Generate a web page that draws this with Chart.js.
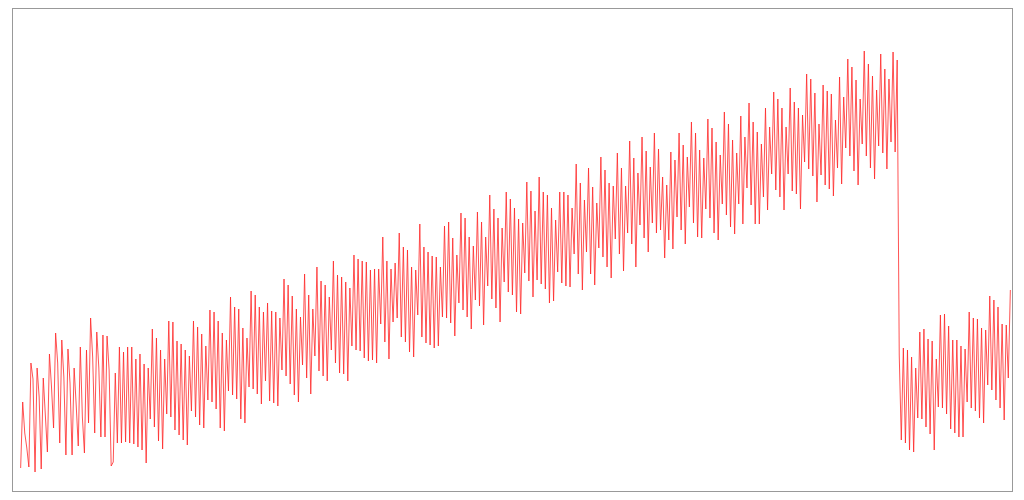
<!DOCTYPE html>
<html>
<head>
<meta charset="utf-8">
<script src="https://cdn.jsdelivr.net/npm/chart.js@4"></script>
<style>
  html, body { margin: 0; padding: 0; background: #ffffff; }
  #wrap { width: 1024px; height: 500px; }
</style>
</head>
<body>
<div id="wrap"><canvas id="c" width="1024" height="500"></canvas></div>
<script>
// Series values, in order, split into consecutive stretches.
const segment1 = [23, 89, 58, 43, 24, 128, 112, 19, 123, 94, 22, 113, 76, 39, 137, 104, 63, 158, 128, 48, 151, 114, 36, 142, 108, 36, 123, 86, 45, 144, 74, 38, 141, 68, 173, 134, 58, 159, 123, 54, 156, 54, 155, 121];
const segment2 = [25, 29, 118, 48, 144, 48, 139, 49, 144, 48, 144, 47, 132, 44, 137, 41, 127, 28, 123, 72, 162, 64, 153, 50, 141, 42, 132, 77, 170, 74, 169, 61, 150, 56, 147, 51, 141, 46, 135, 80, 170];
const segment3 = [74, 164, 66, 157, 63, 145, 91, 181, 89, 179, 82, 170, 63, 158, 60, 151, 100, 194, 96, 184, 92, 182, 72, 163, 68, 153, 104, 200, 102, 196, 97, 184, 87, 179, 110, 188, 90, 180, 88, 179, 85, 173, 121, 212, 115, 206, 107, 195, 96, 182, 89, 174, 126, 217, 113, 196];
const segment4 = [97, 182, 135, 224, 120, 210, 115, 206, 110, 194, 141, 230, 128, 216, 118, 214, 117, 209, 110, 203, 145, 236, 141, 232, 140, 230, 133, 229, 130, 221, 131, 222, 128, 222, 167, 254, 149, 230, 132, 222, 169, 228, 173, 258, 154, 244, 149, 241, 139, 224, 134, 221, 176, 267, 154, 244, 148];
const segment5 = [239, 146, 235, 143, 234, 145, 224, 174, 265, 173, 269, 168, 253, 155, 236, 188, 278, 181, 273, 174, 254, 162, 245, 191, 279, 185, 269, 166, 254, 205, 296, 192, 282, 183, 273, 169, 263, 209, 299, 199, 292, 196, 283, 179, 272, 177, 268, 218, 309, 210, 300, 194, 280, 211, 314, 207, 299];
const segment6 = [202, 296, 188, 283, 190, 271, 219, 299, 208, 299, 205, 296, 204, 283, 237, 327, 217, 308, 201, 291, 239, 323, 217, 304, 206, 288, 243, 334, 234, 321, 224, 308, 213, 305, 252, 338, 237, 323, 220, 305, 258, 350, 247, 333, 224, 318, 266, 354, 253, 340, 239, 324, 268, 358, 258, 342];
const segment7 = [261, 314, 233, 306, 251, 339, 242, 331, 274, 358, 261, 346, 247, 334, 284, 369, 268, 358, 254, 341, 253, 333, 282, 372, 273, 363, 258, 349, 251, 336, 287, 379, 276, 367, 264, 351, 257, 338, 287, 375, 267, 354, 303, 388, 286, 369, 267, 359, 267, 347, 294, 383, 281, 364, 317, 399, 301, 392, 294, 383, 281];
const segment8 = [364, 317, 403, 300, 389, 297, 383, 282, 376, 329, 417, 322, 412, 315, 398, 289, 367, 316, 406, 306, 400, 302, 397, 295, 371, 323, 414, 307, 394, 343, 432, 335, 424, 320, 411, 306, 392, 347, 440, 335, 427, 323, 415, 312, 401, 345, 437, 338, 422, 322, 412, 349, 439, 339, 431];
const dropSegment = [136, 51];
const segment9 = [143, 48, 141, 41, 134, 39, 123, 73, 159, 72, 162, 64, 152, 57, 150, 41, 132, 84, 176, 83, 177, 77, 165, 62, 151, 58, 151, 54, 145, 54, 142, 89, 179, 83, 173, 80, 172, 73, 163, 68, 161, 106, 195, 101, 191, 91, 184, 83, 167, 71, 166, 113, 201];

const seriesValues = [].concat(segment1, segment2, segment3, segment4, segment5,
                               segment6, segment7, segment8, dropSegment, segment9);
// Observation number of each value (x position in sequence).
const periods = seriesValues.map((_, i) => i);

const points = periods.map((p, i) => ({ x: p, y: seriesValues[i] }));

const frameBorder = {
  id: 'frameBorder',
  afterDraw(chart) {
    const a = chart.chartArea;
    const ctx = chart.ctx;
    ctx.save();
    ctx.strokeStyle = '#999999';
    ctx.lineWidth = 1;
    ctx.strokeRect(a.left + 0.5, a.top + 0.5, a.right - a.left, a.bottom - a.top);
    ctx.restore();
  }
};

new Chart(document.getElementById('c'), {
  type: 'line',
  data: {
    datasets: [{
      data: points,
      borderColor: 'rgba(255, 40, 40, 0.8)',
      borderWidth: 1,
      pointRadius: 0,
      tension: 0,
      fill: false
    }]
  },
  options: {
    responsive: false,
    animation: false,
    layout: { padding: { left: 12, right: 12, top: 8, bottom: 9 } },
    scales: {
      x: { type: 'linear', display: false, min: -4.2, max: 481.8 },
      y: { display: false, min: 0, max: 483 }
    },
    plugins: { legend: { display: false }, tooltip: { enabled: false } }
  },
  plugins: [frameBorder]
});
</script>
</body>
</html>
